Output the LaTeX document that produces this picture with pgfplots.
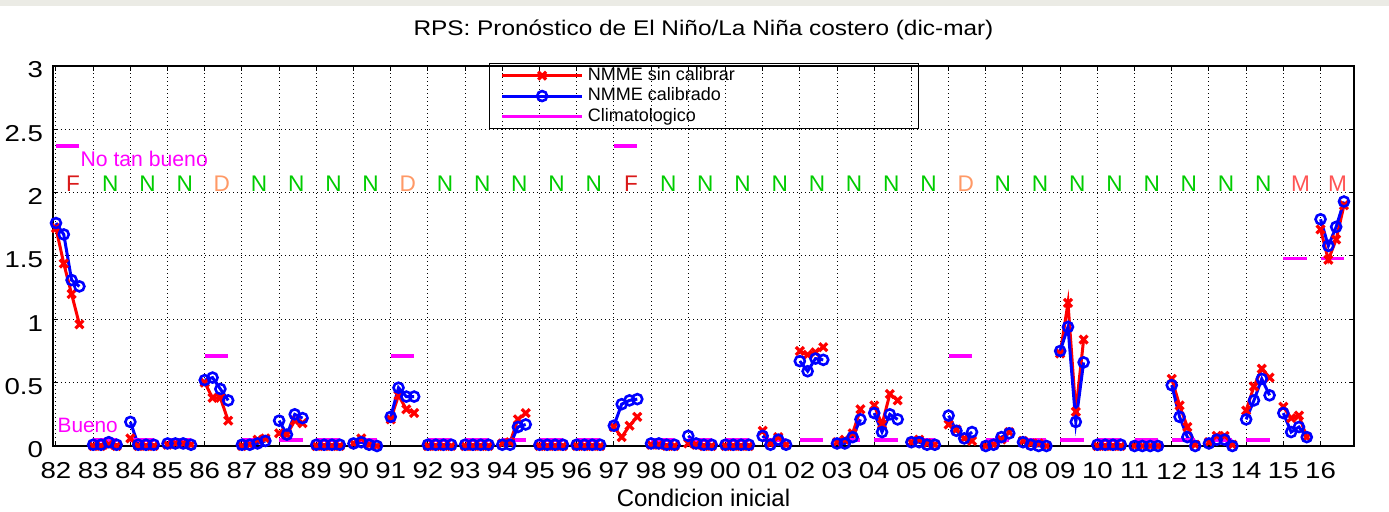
\documentclass[border=0pt]{standalone}
\usepackage{pgfplots}
\pgfplotsset{compat=1.18}
\usepackage{pgfplotstable}
\usepackage{graphicx}
\usepackage{fontspec}
\setmainfont{Liberation Sans}
\definecolor{cF}{rgb}{0.85,0.1,0.1}
\definecolor{cN}{rgb}{0,0.8,0}
\definecolor{cD}{rgb}{1,0.6,0.4}
\definecolor{cM}{rgb}{1,0.33,0.33}
\definecolor{mag}{rgb}{1,0,1}
\definecolor{pred}{rgb}{1,0,0}
\definecolor{pblue}{rgb}{0,0,1}
\definecolor{band}{rgb}{0.92,0.92,0.9}
\newcommand{\sx}[1]{\scalebox{1.2}[1]{#1}}
\newcommand{\lt}[3]{\node[anchor=base, inner sep=0pt, text=#2, font=\fontsize{11.3}{12}\selectfont] at (axis cs:#1,2.013) {#3};}

\pgfplotstableread{
x r b c
0 1.72 1.76 2.37
0.21 1.44 1.67 2.37
0.42 1.20 1.31 2.37
0.63 0.96 1.26 2.37
0.8 nan nan nan
1 0.00 0.01 0.045
1.21 0.00 0.01 0.045
1.42 0.01 0.03 0.045
1.63 0.00 0.01 0.045
1.8 nan nan nan
2 0.06 0.19 0.045
2.21 0.00 0.01 0.045
2.42 0.00 0.01 0.045
2.63 0.00 0.01 0.045
2.8 nan nan nan
3 0.01 0.02 0.045
3.21 0.02 0.02 0.045
3.42 0.02 0.02 0.045
3.63 0.01 0.01 0.045
3.8 nan nan nan
4 0.50 0.52 0.71
4.21 0.38 0.54 0.71
4.42 0.38 0.45 0.71
4.63 0.20 0.36 0.71
4.8 nan nan nan
5 0.00 0.01 0.045
5.21 0.01 0.01 0.045
5.42 0.05 0.02 0.045
5.63 0.06 0.04 0.045
5.8 nan nan nan
6 0.10 0.20 0.045
6.21 0.09 0.09 0.045
6.42 0.20 0.25 0.045
6.63 0.18 0.22 0.045
6.8 nan nan nan
7 0.00 0.01 0.045
7.21 0.00 0.01 0.045
7.42 0.00 0.01 0.045
7.63 0.00 0.01 0.045
7.8 nan nan nan
8 0.02 0.02 0.045
8.21 0.06 0.03 0.045
8.42 0.01 0.01 0.045
8.63 0.00 0.00 0.045
8.8 nan nan nan
9 0.21 0.23 0.71
9.21 0.40 0.46 0.71
9.42 0.29 0.39 0.71
9.63 0.26 0.39 0.71
9.8 nan nan nan
10 0.00 0.01 0.045
10.21 0.00 0.01 0.045
10.42 0.00 0.01 0.045
10.63 0.00 0.01 0.045
10.8 nan nan nan
11 0.00 0.01 0.045
11.21 0.00 0.01 0.045
11.42 0.00 0.01 0.045
11.63 0.00 0.01 0.045
11.8 nan nan nan
12 0.02 0.01 0.045
12.21 0.03 0.01 0.045
12.42 0.21 0.15 0.045
12.63 0.26 0.17 0.045
12.8 nan nan nan
13 0.00 0.01 0.045
13.21 0.00 0.01 0.045
13.42 0.00 0.01 0.045
13.63 0.00 0.01 0.045
13.8 nan nan nan
14 0.00 0.01 0.045
14.21 0.00 0.01 0.045
14.42 0.00 0.01 0.045
14.63 0.00 0.01 0.045
14.8 nan nan nan
15 0.15 0.16 2.37
15.21 0.07 0.33 2.37
15.42 0.16 0.36 2.37
15.63 0.23 0.37 2.37
15.8 nan nan nan
16 0.01 0.02 0.045
16.21 0.01 0.02 0.045
16.42 0.00 0.01 0.045
16.63 0.00 0.01 0.045
16.8 nan nan nan
17 0.02 0.08 0.045
17.21 0.01 0.02 0.045
17.42 0.00 0.01 0.045
17.63 0.00 0.01 0.045
17.8 nan nan nan
18 0.00 0.01 0.045
18.21 0.00 0.01 0.045
18.42 0.00 0.01 0.045
18.63 0.00 0.01 0.045
18.8 nan nan nan
19 0.12 0.08 0.045
19.21 0.02 0.01 0.045
19.42 0.07 0.05 0.045
19.63 0.01 0.01 0.045
19.8 nan nan nan
20 0.75 0.67 0.045
20.21 0.72 0.59 0.045
20.42 0.74 0.69 0.045
20.63 0.78 0.68 0.045
20.8 nan nan nan
21 0.03 0.02 0.045
21.21 0.05 0.02 0.045
21.42 0.10 0.07 0.045
21.63 0.29 0.21 0.045
21.8 nan nan nan
22 0.32 0.26 0.045
22.21 0.17 0.11 0.045
22.42 0.41 0.25 0.045
22.63 0.36 0.21 0.045
22.8 nan nan nan
23 0.03 0.03 0.045
23.21 0.05 0.03 0.045
23.42 0.02 0.01 0.045
23.63 0.01 0.01 0.045
23.8 nan nan nan
24 0.17 0.24 0.71
24.21 0.13 0.12 0.71
24.42 0.06 0.06 0.71
24.63 0.04 0.11 0.71
24.8 nan nan nan
25 0.00 0.00 0.045
25.21 0.01 0.01 0.045
25.42 0.05 0.07 0.045
25.63 0.11 0.10 0.045
25.8 nan nan nan
26 0.04 0.03 0.045
26.21 0.02 0.01 0.045
26.42 0.02 0.00 0.045
26.63 0.00 0.00 0.045
26.8 nan nan nan
27 0.73 0.75 0.045
27.21 1.13 0.94 0.045
27.42 0.27 0.19 0.045
27.63 0.84 0.66 0.045
27.8 nan nan nan
28 0.00 0.01 0.045
28.21 0.00 0.01 0.045
28.42 0.00 0.01 0.045
28.63 0.00 0.01 0.045
28.8 nan nan nan
29 0.00 0.00 0.045
29.21 0.00 0.00 0.045
29.42 0.00 0.00 0.045
29.63 0.00 0.00 0.045
29.8 nan nan nan
30 0.53 0.48 0.045
30.21 0.32 0.23 0.045
30.42 0.15 0.07 0.045
30.63 0.01 0.00 0.045
30.8 nan nan nan
31 0.03 0.02 0.045
31.21 0.08 0.05 0.045
31.42 0.08 0.05 0.045
31.63 0.01 0.00 0.045
31.8 nan nan nan
32 0.28 0.21 0.045
32.21 0.47 0.36 0.045
32.42 0.61 0.53 0.045
32.63 0.54 0.40 0.045
32.8 nan nan nan
33 0.31 0.26 1.48
33.21 0.22 0.11 1.48
33.42 0.24 0.15 1.48
33.63 0.07 0.07 1.48
33.8 nan nan nan
34 1.71 1.79 1.48
34.21 1.47 1.58 1.48
34.42 1.63 1.73 1.48
34.63 1.90 1.93 1.48
}\rps

\begin{document}
\begin{tikzpicture}
\path[use as bounding box] (-26.5pt,-33pt) rectangle (668pt,223pt);
\fill[band] (-26.5pt,220pt) rectangle (668pt,223pt);
\begin{axis}[
  at={(0pt,0pt)}, anchor=south west,
  scale only axis, width=650.5pt, height=190pt,
  xmin=-0.08, xmax=34.9, ymin=0, ymax=3,
  xtick={0,...,34},
  xticklabels={\sx{82},\sx{83},\sx{84},\sx{85},\sx{86},\sx{87},\sx{88},\sx{89},\sx{90},\sx{91},\sx{92},\sx{93},\sx{94},\sx{95},\sx{96},\sx{97},\sx{98},\sx{99},\sx{00},\sx{01},\sx{02},\sx{03},\sx{04},\sx{05},\sx{06},\sx{07},\sx{08},\sx{09},\sx{10},\sx{11},\sx{12},\sx{13},\sx{14},\sx{15},\sx{16}},
  ytick={0,0.5,1,1.5,2,2.5,3},
  yticklabels={\sx{0},\sx{0.5},\sx{1},\sx{1.5},\sx{2},\sx{2.5},\sx{3}},
  tick align=inside, major tick length=2.5pt,
  tick style={black, line width=0.5pt},
  grid=major,
  major grid style={black, line width=0.5pt, dash pattern=on 0.5pt off 1.5pt},
  axis line style={black, line width=0.6pt},
  tick label style={font=\fontsize{11.5}{13}\selectfont},
  xticklabel style={anchor=center, yshift=-12.5pt},
  yticklabel style={anchor=east, xshift=-1.5pt, yshift=-2pt},
  title={\scalebox{1.15}[1]{RPS: Pronóstico de El Niño/La Niña costero (dic-mar)}},
  title style={at={(0.5,1)}, anchor=center, yshift=12pt, font=\fontsize{10.6}{12}\selectfont},
  xlabel={Condicion inicial},
  xlabel style={at={(0.5,-0.1355)}, anchor=center, font=\fontsize{12}{14}\selectfont},
  unbounded coords=jump,
  clip=false,
  legend style={at={(0.335,1.008)}, anchor=north west, draw=black, line width=0.5pt, fill=none,
    font=\fontsize{9}{10}\selectfont, inner xsep=5.5pt, inner ysep=1pt, row sep=0pt,
    nodes={inner ysep=0.6pt, text height=6.8pt, text depth=2.2pt}},
  legend cell align=left,
  legend image code/.code={\draw[mark repeat=2,mark phase=2,#1] plot coordinates {(0pt,0pt) (20pt,0pt) (40pt,0pt)};},
]
\addplot[pred, line width=1.5pt, mark=x, mark size=2.8pt, mark options={line width=1.6pt}] table[x=x,y=r]{\rps};
\addlegendentry{\makebox[158pt][l]{NMME sin calibrar}}
\addplot[pblue, line width=1.5pt, mark=o, mark size=2.5pt, mark options={line width=1.3pt}] table[x=x,y=b]{\rps};
\addlegendentry{\makebox[158pt][l]{NMME calibrado}}
\addplot[mag, line width=1.8pt] table[x=x,y=c]{\rps};
\addlegendentry{\makebox[158pt][l]{Climatologico}}

\node[anchor=west, inner sep=0pt, text=mag, font=\fontsize{10.6}{12}\selectfont] at (axis cs:0.65,2.265) {No tan bueno};
\node[anchor=west, inner sep=0pt, text=mag, font=\fontsize{10.4}{12}\selectfont] at (axis cs:0.035,0.16) {Bueno};

\lt{0.46}{cF}{F}
\lt{1.46}{cN}{N}
\lt{2.46}{cN}{N}
\lt{3.46}{cN}{N}
\lt{4.46}{cD}{D}
\lt{5.46}{cN}{N}
\lt{6.46}{cN}{N}
\lt{7.46}{cN}{N}
\lt{8.46}{cN}{N}
\lt{9.46}{cD}{D}
\lt{10.46}{cN}{N}
\lt{11.46}{cN}{N}
\lt{12.46}{cN}{N}
\lt{13.46}{cN}{N}
\lt{14.46}{cN}{N}
\lt{15.46}{cF}{F}
\lt{16.46}{cN}{N}
\lt{17.46}{cN}{N}
\lt{18.46}{cN}{N}
\lt{19.46}{cN}{N}
\lt{20.46}{cN}{N}
\lt{21.46}{cN}{N}
\lt{22.46}{cN}{N}
\lt{23.46}{cN}{N}
\lt{24.46}{cD}{D}
\lt{25.46}{cN}{N}
\lt{26.46}{cN}{N}
\lt{27.46}{cN}{N}
\lt{28.46}{cN}{N}
\lt{29.46}{cN}{N}
\lt{30.46}{cN}{N}
\lt{31.46}{cN}{N}
\lt{32.46}{cN}{N}
\lt{33.46}{cM}{M}
\lt{34.46}{cM}{M}
\end{axis}
\end{tikzpicture}
\end{document}
